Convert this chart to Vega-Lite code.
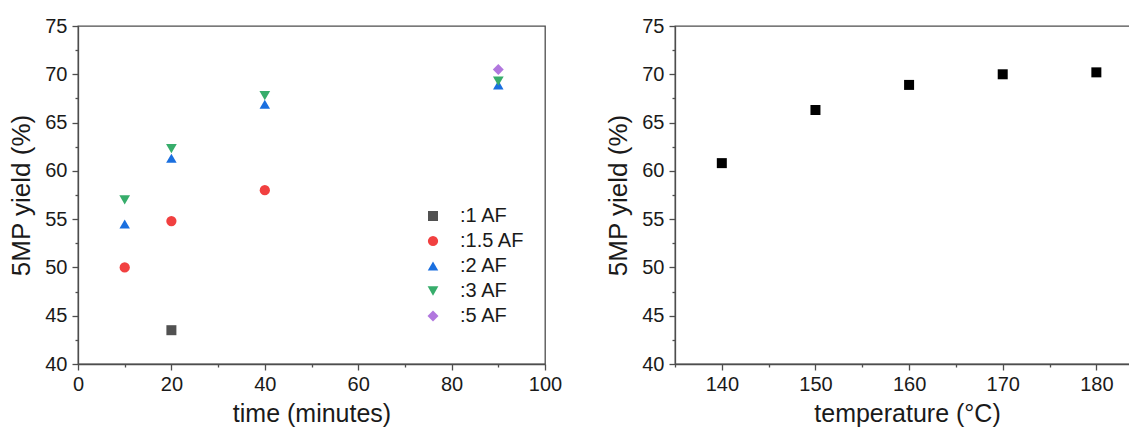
{
  "$schema": "https://vega.github.io/schema/vega-lite/v6.json",
  "padding": {"left": 8, "top": 15, "right": 0, "bottom": 0},
  "autosize": {"type": "pad"},
  "background": "white",
  "bounds": "flush",
  "spacing": 130,
  "config": {
    "font": "Liberation Sans",
    "view": {"stroke": "#4d4d4d", "strokeWidth": 1.3},
    "axis": {
      "domainColor": "#4d4d4d", "domainWidth": 1.3,
      "tickColor": "#4d4d4d", "tickWidth": 1.3, "tickSize": 6,
      "labelFontSize": 20, "labelColor": "#1a1a1a", "labelFont": "Liberation Sans",
      "titleFontWeight": "normal", "titleColor": "#1a1a1a", "titleFont": "Liberation Sans",
      "grid": false, "labelFlush": false, "labelOverlap": false
    },
    "axisX": {"labelPadding": 4, "titlePadding": 7, "titleFontSize": 25},
    "axisY": {"labelPadding": 5, "titlePadding": 10, "titleFontSize": 26}
  },
  "datasets": {
    "timeData": [
      {"time": 20, "yield": 43.5, "ratio": ":1 AF"},
      {"time": 10, "yield": 50.0, "ratio": ":1.5 AF"},
      {"time": 20, "yield": 54.8, "ratio": ":1.5 AF"},
      {"time": 40, "yield": 58.0, "ratio": ":1.5 AF"},
      {"time": 10, "yield": 54.5, "ratio": ":2 AF"},
      {"time": 20, "yield": 61.3, "ratio": ":2 AF"},
      {"time": 40, "yield": 66.9, "ratio": ":2 AF"},
      {"time": 90, "yield": 68.9, "ratio": ":2 AF"},
      {"time": 10, "yield": 57.0, "ratio": ":3 AF"},
      {"time": 20, "yield": 62.3, "ratio": ":3 AF"},
      {"time": 40, "yield": 67.8, "ratio": ":3 AF"},
      {"time": 90, "yield": 69.3, "ratio": ":3 AF"},
      {"time": 90, "yield": 70.5, "ratio": ":5 AF"}
    ],
    "tempData": [
      {"temperature": 140, "yield": 60.8},
      {"temperature": 150, "yield": 66.3},
      {"temperature": 160, "yield": 68.9},
      {"temperature": 170, "yield": 70.0},
      {"temperature": 180, "yield": 70.2}
    ]
  },
  "hconcat": [
    {
      "width": 467,
      "height": 338,
      "data": {"name": "timeData"},
      "layer": [
        {
          "mark": {"type": "point", "filled": true, "opacity": 1, "strokeWidth": 0},
          "encoding": {
            "x": {"field": "time", "type": "quantitative",
              "scale": {"domain": [0, 100], "nice": false, "zero": false},
              "axis": {"title": "time (minutes)", "values": [0, 20, 40, 60, 80, 100]}},
            "y": {"field": "yield", "type": "quantitative",
              "scale": {"domain": [40, 75], "nice": false, "zero": false},
              "axis": {"title": "5MP yield (%)", "values": [40, 45, 50, 55, 60, 65, 70, 75]}},
            "color": {"field": "ratio", "type": "nominal",
              "scale": {"domain": [":1 AF", ":1.5 AF", ":2 AF", ":3 AF", ":5 AF"],
                "range": ["#515151", "#F14040", "#1A6FDF", "#37AD6B", "#B177DE"]},
              "legend": {"orient": "none", "legendX": 345, "legendY": 180, "title": null,
                "labelFontSize": 20, "labelColor": "#1a1a1a", "labelOffset": 17, "rowPadding": 5,
                "padding": 0, "symbolStrokeWidth": 0, "symbolOpacity": 1}},
            "shape": {"field": "ratio", "type": "nominal",
              "scale": {"domain": [":1 AF", ":1.5 AF", ":2 AF", ":3 AF", ":5 AF"],
                "range": ["square", "circle", "triangle-up", "triangle-down", "diamond"]},
              "legend": {"orient": "none", "legendX": 345, "legendY": 180, "title": null,
                "labelFontSize": 20, "labelColor": "#1a1a1a", "labelOffset": 17, "rowPadding": 5,
                "padding": 0, "symbolStrokeWidth": 0, "symbolOpacity": 1}},
            "size": {"field": "ratio", "type": "ordinal",
              "scale": {"domain": [":1 AF", ":1.5 AF", ":2 AF", ":3 AF", ":5 AF"],
                "range": [100, 120, 200, 200, 160]},
              "legend": {"orient": "none", "legendX": 345, "legendY": 180, "title": null,
                "labelFontSize": 20, "labelColor": "#1a1a1a", "labelOffset": 17, "rowPadding": 5,
                "padding": 0, "symbolStrokeWidth": 0, "symbolOpacity": 1}}
          }
        },
        {
          "mark": {"type": "point", "opacity": 0},
          "encoding": {
            "x": {"field": "time", "type": "quantitative",
              "axis": {"values": [10, 30, 50, 70, 90], "labels": false, "tickSize": 3, "domain": false, "title": null, "orient": "bottom"}},
            "y": {"field": "yield", "type": "quantitative",
              "axis": {"values": [42.5, 47.5, 52.5, 57.5, 62.5, 67.5, 72.5], "labels": false, "tickSize": 3, "domain": false, "title": null, "orient": "left"}}
          }
        }
      ],
      "resolve": {"axis": {"x": "independent", "y": "independent"}}
    },
    {
      "width": 456,
      "height": 338,
      "data": {"name": "tempData"},
      "layer": [
        {
          "mark": {"type": "point", "shape": "square", "filled": true, "opacity": 1, "size": 100, "color": "#000000", "strokeWidth": 0},
          "encoding": {
            "x": {"field": "temperature", "type": "quantitative",
              "scale": {"domain": [135, 183.7], "nice": false, "zero": false},
              "axis": {"title": "temperature (°C)", "values": [140, 150, 160, 170, 180], "titleX": 232}},
            "y": {"field": "yield", "type": "quantitative",
              "scale": {"domain": [40, 75], "nice": false, "zero": false},
              "axis": {"title": "5MP yield (%)", "values": [40, 45, 50, 55, 60, 65, 70, 75]}}
          }
        },
        {
          "mark": {"type": "point", "opacity": 0},
          "encoding": {
            "x": {"field": "temperature", "type": "quantitative",
              "axis": {"values": [135, 145, 155, 165, 175], "labels": false, "tickSize": 3, "domain": false, "title": null, "orient": "bottom"}},
            "y": {"field": "yield", "type": "quantitative",
              "axis": {"values": [42.5, 47.5, 52.5, 57.5, 62.5, 67.5, 72.5], "labels": false, "tickSize": 3, "domain": false, "title": null, "orient": "left"}}
          }
        }
      ],
      "resolve": {"axis": {"x": "independent", "y": "independent"}}
    }
  ]
}
